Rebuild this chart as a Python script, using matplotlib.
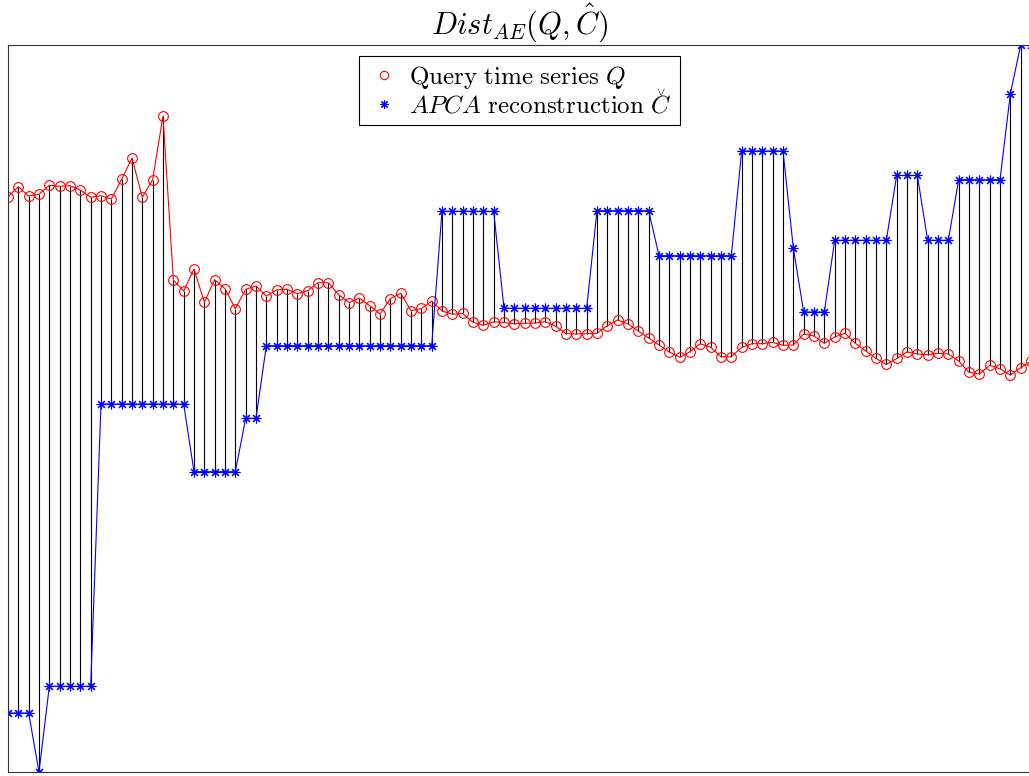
import numpy as np
import matplotlib
matplotlib.use('Agg')
import matplotlib.pyplot as plt
from matplotlib.lines import Line2D

plt.rcParams['mathtext.fontset'] = 'cm'

# query time series Q (100 samples)
q = [2.033, 2.133, 2.04, 2.057, 2.147, 2.137, 2.143, 2.10, 2.027, 2.043,
     2.01, 2.207, 2.42, 2.027, 2.203, 2.84, 1.20, 1.09, 1.31, 0.977,
     1.203, 1.113, 0.913, 1.107, 1.14, 1.04, 1.10, 1.107, 1.063, 1.093,
     1.173, 1.173, 1.053, 0.973, 1.02, 0.943, 0.86, 1.013, 1.067, 0.893,
     0.915, 0.988, 0.89, 0.858, 0.865, 0.777, 0.748, 0.782, 0.775, 0.763,
     0.767, 0.77, 0.783, 0.737, 0.663, 0.66, 0.663, 0.667, 0.743, 0.80,
     0.76, 0.69, 0.62, 0.55, 0.48, 0.427, 0.483, 0.563, 0.527, 0.433,
     0.433, 0.527, 0.563, 0.563, 0.577, 0.547, 0.55, 0.66, 0.64, 0.567,
     0.63, 0.667, 0.567, 0.492, 0.415, 0.355, 0.415, 0.48, 0.46, 0.453,
     0.467, 0.46, 0.39, 0.277, 0.26, 0.347, 0.313, 0.25, 0.323, 0.39]

# APCA reconstruction C
c = ([-3.13] * 3 + [-3.72] + [-2.863] * 5 + [-0.04] * 9 + [-0.717] * 5
     + [-0.183] * 2 + [0.543] * 17 + [1.887] * 6 + [0.917] * 9
     + [1.893] * 6 + [1.443] * 8 + [2.49] * 5 + [1.52] + [0.88] * 3
     + [1.597] * 6 + [2.245] * 3 + [1.597] * 3 + [2.203] * 5
     + [3.06] + [3.55] * 2)

q = np.array(q)
c = np.array(c)
t = np.arange(len(q))

fig = plt.figure(figsize=(10.29, 7.76), dpi=100)
# axes run a bit past the right edge, as in the original crop
ax = fig.add_axes([8 / 1029, 4 / 776, 1023 / 1029, 727 / 776])

ax.vlines(t, q, c, colors='k', linewidth=0.8)
ax.plot(t, q, color='r', linewidth=0.8, marker='o', markersize=7,
        markerfacecolor='none', markeredgewidth=0.8)
ax.plot(t, c, color='b', linewidth=0.8, marker=(8, 2, 0), markersize=7,
        markeredgewidth=0.8)

ax.set_xlim(0, len(q) - 1)
ax.set_ylim(min(q.min(), c.min()), max(q.max(), c.max()))
ax.set_xticks([])
ax.set_yticks([])
for s in ax.spines.values():
    s.set_linewidth(0.8)
    s.set_color('#333333')

ax.set_title(r'$Dist_{AE}(Q,\hat{C})$', fontsize=22, pad=7)

handles = [
    Line2D([], [], linestyle='none', marker='o', color='r',
           markerfacecolor='none', markersize=6, markeredgewidth=0.8),
    Line2D([], [], linestyle='none', marker=(8, 2, 0), color='b',
           markersize=6, markeredgewidth=0.8),
]
labels = [r'$\mathrm{Query\ time\ series}\ Q$',
          r'$APCA\ \mathrm{reconstruction}\ C$']
fs = 18
leg = ax.legend(handles, labels, loc='upper center', fontsize=fs,
                fancybox=False, edgecolor='k', framealpha=1,
                borderpad=0.3, labelspacing=0.1, handlelength=1.4,
                handletextpad=0.3, borderaxespad=0.45)
leg.get_frame().set_linewidth(0.8)

# mathtext has no \check, so put a caron over the last C by hand
fig.canvas.draw()
renderer = fig.canvas.get_renderer()
txt = leg.get_texts()[1]
bb = txt.get_window_extent(renderer)
_, _, lp_d = renderer.get_text_width_height_descent(
    'lp', txt.get_fontproperties(), ismath=False)
fs_px = fs * fig.dpi / 72
base = bb.y0 + lp_d
cx, cy = fig.transFigure.inverted().transform(
    (bb.x1 - 0.36 * fs_px - 2, base + 0.75 * fs_px - 2.5))
fig.text(cx, cy, r'$\vee$', fontsize=9, ha='center', va='baseline')

fig.savefig('out.png', dpi=100)
